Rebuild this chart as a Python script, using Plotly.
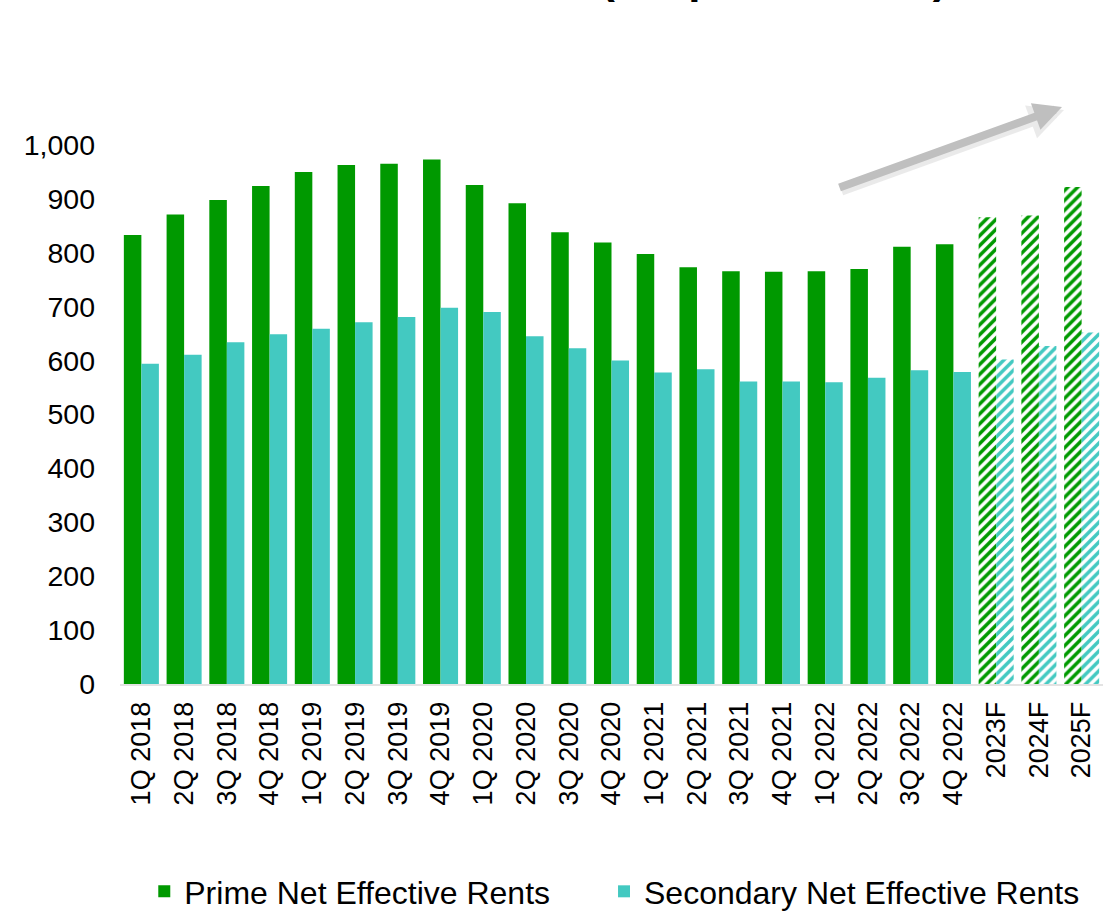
import plotly.graph_objects as go

categories = ["1Q 2018", "2Q 2018", "3Q 2018", "4Q 2018",
              "1Q 2019", "2Q 2019", "3Q 2019", "4Q 2019",
              "1Q 2020", "2Q 2020", "3Q 2020", "4Q 2020",
              "1Q 2021", "2Q 2021", "3Q 2021", "4Q 2021",
              "1Q 2022", "2Q 2022", "3Q 2022", "4Q 2022",
              "2023F", "2024F", "2025F"]
prime = [833, 871, 898, 924, 950, 963, 965, 973, 926, 892, 838, 819,
         798, 773, 766, 765, 766, 770, 811, 816, 866, 869, 922]
secondary = [594, 611, 634, 649, 659, 671, 681, 698, 690, 645, 623, 600,
             578, 584, 561, 561, 560, 568, 582, 579, 602, 627, 652]
forecast = [False] * 20 + [True] * 3
y_ticks = [0, 100, 200, 300, 400, 500, 600, 700, 800, 900, 1000]

GREEN = "#009900"
CYAN = "#43C9C1"
FONT = "Liberation Sans, Arial, sans-serif"

shapes = ["/" if f else "" for f in forecast]

fig = go.Figure()
fig.add_trace(go.Bar(
    x=categories, y=prime, name="Prime Net Effective Rents", legend="legend",
    marker=dict(color=GREEN, line=dict(width=0),
                pattern=dict(shape=shapes, fillmode="replace", bgcolor="white",
                             size=7, solidity=0.5)),
))
fig.add_trace(go.Bar(
    x=categories, y=secondary, name="Secondary Net Effective Rents", legend="legend2",
    marker=dict(color=CYAN, line=dict(width=0),
                pattern=dict(shape=shapes, fillmode="replace", bgcolor="white",
                             size=7, solidity=0.5)),
))

fig.update_layout(
    width=1110, height=912,
    margin=dict(l=120, r=7, t=145, b=228, autoexpand=False),
    paper_bgcolor="white", plot_bgcolor="white",
    barmode="group", bargap=0.18, bargroupgap=0,
    font=dict(family=FONT, color="black", size=27),
    showlegend=True,
    legend=dict(orientation="h", x=0.0247, xanchor="left", y=-0.385, yanchor="middle",
                font=dict(size=32, family=FONT)),
    legend2=dict(orientation="h", x=0.4924, xanchor="left", y=-0.385, yanchor="middle",
                 font=dict(size=32, family=FONT)),
    xaxis=dict(tickangle=-90, showline=True, linecolor="#E3E3E3", linewidth=2,
               showgrid=False, ticks="", ticklabelstandoff=5,
               tickfont=dict(size=27)),
    yaxis=dict(range=[0, 1000], tickvals=y_ticks, tickformat=",", showgrid=False,
               zeroline=False, showline=False, ticks="", ticklabelstandoff=24,
               tickfont=dict(size=28.5)),
)

# Clipped title (only descenders visible at the top edge)
fig.add_annotation(
    text="<b>Net Effective Rents (€, €psm annual)</b>",
    xref="paper", yref="paper", x=0.455, y=1.2615, xanchor="center", yanchor="bottom",
    showarrow=False, font=dict(size=44, family=FONT, color="black"),
)

# Trend arrow (shadow + arrow)
fig.add_annotation(
    xref="paper", yref="paper", x=(1064 - 120) / 983, y=(684 - 110) / 539,
    axref="pixel", ayref="pixel", ax=-224, ay=81, text="", showarrow=True,
    arrowhead=2, arrowsize=0.7, arrowwidth=10, arrowcolor="rgba(0,0,0,0.08)",
)
fig.add_annotation(
    xref="paper", yref="paper", x=(1062 - 120) / 983, y=(684 - 107) / 539,
    axref="pixel", ayref="pixel", ax=-224, ay=81, text="", showarrow=True,
    arrowhead=2, arrowsize=0.7, arrowwidth=8, arrowcolor="#BFBFBF",
)

fig.write_html("out.html", config={"displayModeBar": False},
               post_script="document.body.style.margin='0';")
